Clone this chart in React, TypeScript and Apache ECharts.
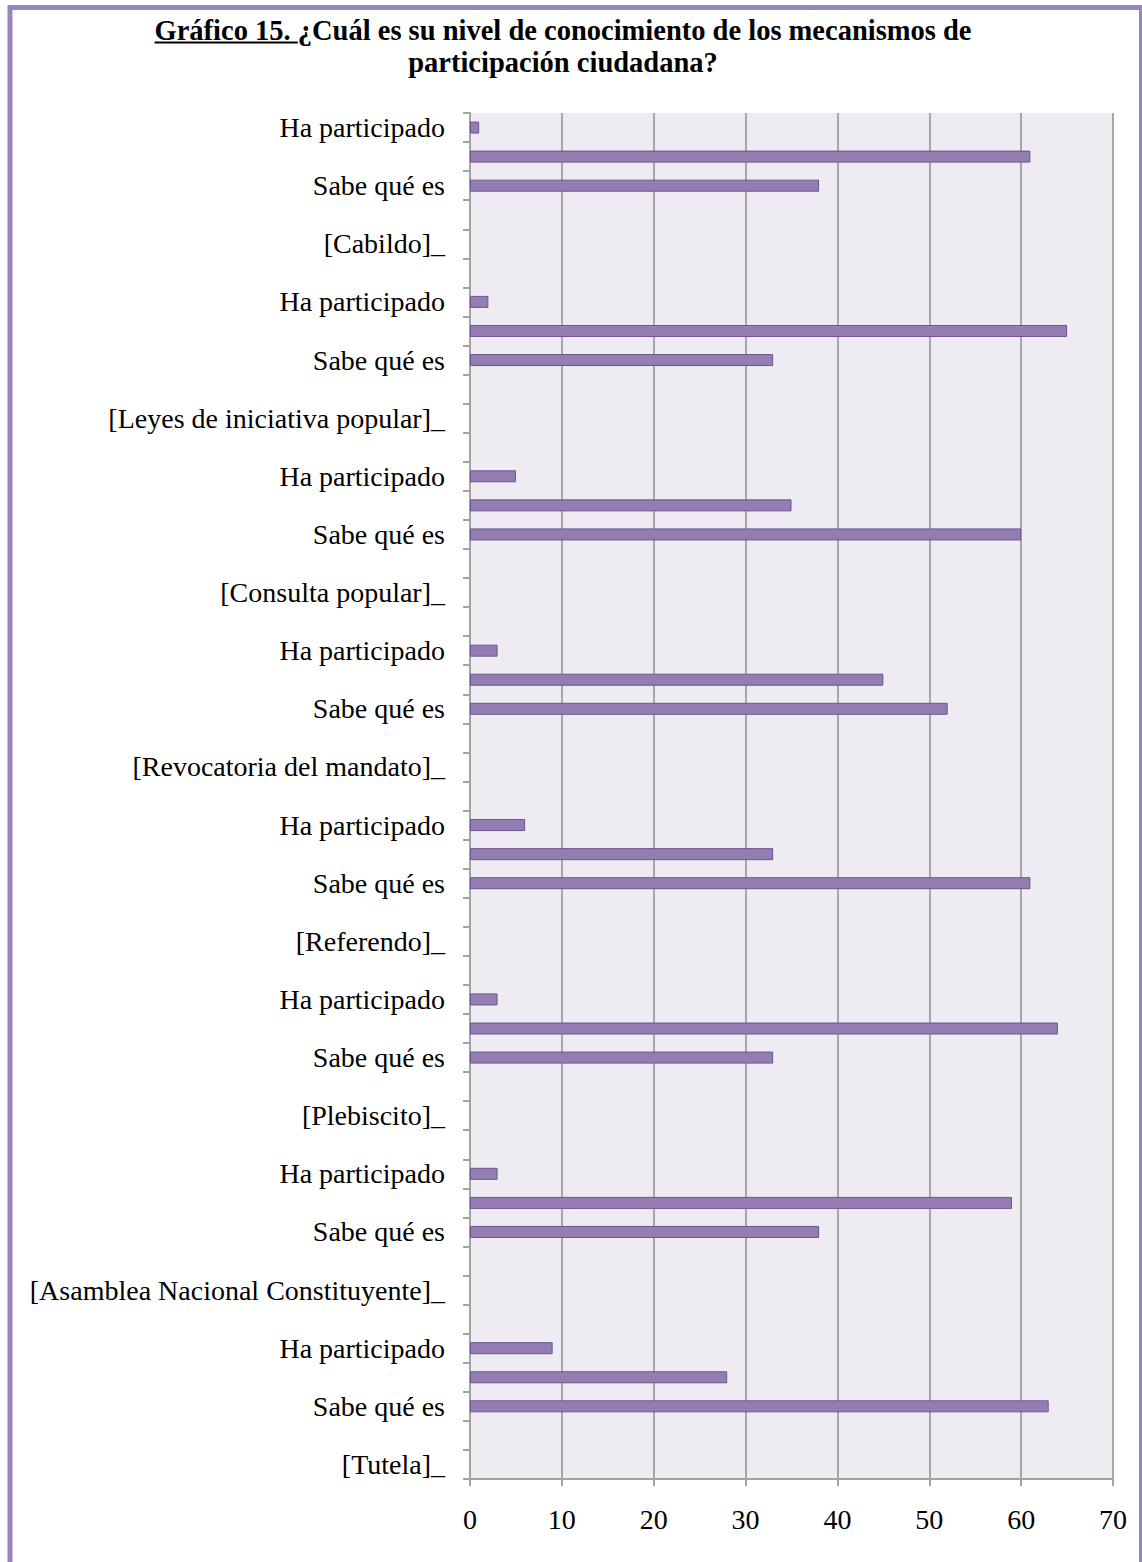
import React, { useEffect, useRef } from "react";
import * as echarts from "echarts";

const mechanisms = [
  "Cabildo",
  "Leyes de iniciativa popular",
  "Consulta popular",
  "Revocatoria del mandato",
  "Referendo",
  "Plebiscito",
  "Asamblea Nacional Constituyente",
  "Tutela",
];
const haParticipado = [1, 2, 5, 3, 6, 3, 3, 9];
const otroNivel = [61, 65, 35, 45, 33, 64, 59, 28];
const sabeQueEs = [38, 33, 60, 52, 61, 33, 38, 63];
const xTicks = { min: 0, max: 70, interval: 10 };

const titleA = "Gráfico 15. ";
const titleB = "¿Cuál es su nivel de conocimiento de los mecanismos de";
const titleC = "participación ciudadana?";

const FONT = "'Liberation Serif', 'Times New Roman', serif";

function buildRows() {
  const cats: string[] = [];
  const vals: (number | string)[] = [];
  mechanisms.forEach((m, g) => {
    cats.push("Ha participado"); vals.push(haParticipado[g]);
    cats.push(""); vals.push(otroNivel[g]);
    cats.push("Sabe qué es"); vals.push(sabeQueEs[g]);
    cats.push(""); vals.push("-");
    cats.push(`[${m}]_`); vals.push("-");
    if (g < mechanisms.length - 1) { cats.push(""); vals.push("-"); }
  });
  return { cats, vals };
}

export default function App() {
  const ref = useRef<HTMLDivElement>(null);
  useEffect(() => {
    if (!ref.current) return;
    const chart = echarts.init(ref.current, undefined, { renderer: "svg" });
    const { cats, vals } = buildRows();
    const titleFont = `bold 28.5px ${FONT}`;
    const ctx = document.createElement("canvas").getContext("2d")!;
    ctx.font = titleFont;
    const wA = ctx.measureText(titleA).width;
    const wB = ctx.measureText(titleB).width;
    const cx = 563;
    const startX = cx - (wA + wB) / 2;
    chart.setOption({
      animation: false,
      backgroundColor: "#ffffff",
      grid: {
        left: 470,
        right: 29,
        top: 113,
        bottom: 83,
        show: true,
        backgroundColor: "#EEEBF2",
        borderWidth: 0,
      },
      xAxis: {
        type: "value",
        min: xTicks.min,
        max: xTicks.max,
        interval: xTicks.interval,
        axisLine: { show: true, lineStyle: { color: "#A3A3A3", width: 2 } },
        axisTick: { show: true, length: 7, lineStyle: { color: "#A3A3A3", width: 2 } },
        splitLine: { show: true, lineStyle: { color: "#A6A6A6", width: 2 } },
        axisLabel: { fontFamily: FONT, fontSize: 28, color: "#000", margin: 26 },
      },
      yAxis: {
        type: "category",
        inverse: true,
        data: cats,
        axisLine: { show: true, lineStyle: { color: "#A3A3A3", width: 2 } },
        axisTick: { show: true, length: 7, interval: 0, lineStyle: { color: "#A3A3A3", width: 2 } },
        axisLabel: { interval: 0, fontFamily: FONT, fontSize: 28, color: "#000", margin: 25, padding: [9, 0, 0, 0] },
        splitLine: { show: false },
      },
      series: [
        {
          type: "bar",
          data: vals,
          barWidth: 12,
          itemStyle: { color: "#957DB3", borderColor: "#6B5590", borderWidth: 1 },
        },
      ],
      graphic: [
        {
          type: "rect",
          shape: { x: 10, y: 7.5, width: 1131.5, height: 1600 },
          style: { fill: "none", stroke: "#9A84BC", lineWidth: 5 },
          z: 100,
        },
        {
          type: "text",
          x: startX,
          y: 30.5,
          style: { text: titleA, font: titleFont, fill: "#000", align: "left", verticalAlign: "middle", textAlign: "left", textVerticalAlign: "middle" },
        },
        {
          type: "line",
          shape: { x1: startX, y1: 42.5, x2: startX + wA, y2: 42.5 },
          style: { stroke: "#000", lineWidth: 2 },
        },
        {
          type: "text",
          x: startX + wA,
          y: 30.5,
          style: { text: titleB, font: titleFont, fill: "#000", align: "left", verticalAlign: "middle", textAlign: "left", textVerticalAlign: "middle" },
        },
        {
          type: "text",
          x: cx,
          y: 62,
          style: { text: titleC, font: titleFont, fill: "#000", align: "center", verticalAlign: "middle", textAlign: "center", textVerticalAlign: "middle" },
        },
      ],
    });
    return () => chart.dispose();
  }, []);
  return (
    <div
      ref={ref}
      style={{ position: "absolute", left: 0, top: 0, width: 1142, height: 1562, background: "#fff" }}
    />
  );
}
